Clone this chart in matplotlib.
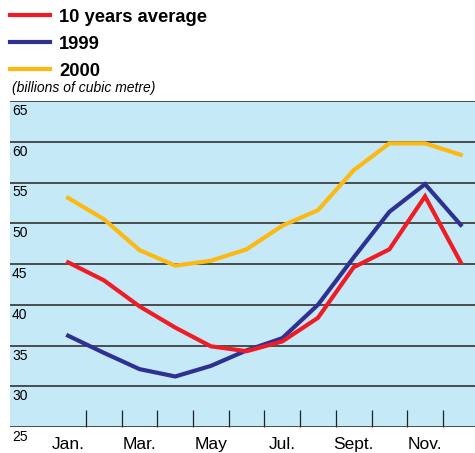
import numpy as np
import matplotlib
matplotlib.use("Agg")
from matplotlib import pyplot as plt
from matplotlib.lines import Line2D
import matplotlib.transforms as mtransforms

plt.rcParams['font.family'] = ['Liberation Sans', 'DejaVu Sans']

months = ['Jan.', 'Feb.', 'Mar.', 'Apr.', 'May', 'Jun.', 'Jul.', 'Aug.',
          'Sept.', 'Oct.', 'Nov.', 'Dec.']
avg10 = [45.2, 43.0, 39.8, 37.2, 34.9, 34.3, 35.5, 38.4, 44.6, 46.8, 53.3, 45.2]
y1999 = [36.2, 34.1, 32.1, 31.2, 32.5, 34.4, 35.9, 40.0, 45.8, 51.4, 54.8, 49.8]
y2000 = [53.1, 50.5, 46.7, 44.8, 45.4, 46.8, 49.7, 51.6, 56.5, 59.8, 59.8, 58.4]
series_names = ['10 years average', '1999', '2000']
yticks = [25, 30, 35, 40, 45, 50, 55, 60, 65]
shown_months = [0, 2, 4, 6, 8, 10]

red = '#EE1C25'
blue = '#2E3192'
yellow = '#FDB913'
colors = [red, blue, yellow]

W, H = 475, 453
fig = plt.figure(figsize=(W/100, H/100), dpi=100)
ax = fig.add_axes([10/W, 26/H, 1 - 10/W, (427-101)/H])
ax.set_facecolor('#C6E9F8')

x = np.arange(12)
for vals, c, name, z in zip([avg10, y1999, y2000], colors, series_names, [4, 3, 3]):
    ax.plot(x, vals, color=c, lw=3, solid_joinstyle='miter', label=name, zorder=z)

ax.set_ylim(25, 65)
ax.set_xlim(-1.63, 11.4)
for s in ax.spines.values():
    s.set_visible(False)

# horizontal gridlines
for v in yticks:
    ax.axhline(v, color='#333333', lw=1.2, zorder=2)
ax.set_yticks([])

# y labels just under each gridline
trans = mtransforms.blended_transform_factory(ax.transAxes, ax.transData)
off = mtransforms.offset_copy(trans, fig=fig, x=2, y=-3, units='dots')
for v in yticks:
    ax.text(0, v, str(v), transform=off, ha='left', va='top', fontsize=10, clip_on=False)

# month labels and boundary ticks
ax.set_xticks(shown_months)
ax.set_xticklabels([months[i] for i in shown_months], fontsize=12.5)
ax.tick_params(axis='x', which='major', length=0, pad=7.5)
ax.set_xticks(np.arange(0.5, 11, 1), minor=True)
ax.tick_params(axis='x', which='minor', direction='in', length=12, width=0.9, color='#222222')

# legend drawn by hand at the top left
for i, (c, name) in enumerate(zip(colors, series_names)):
    yl = 15.3 + i * 27
    fig.add_artist(Line2D([10/W, 50/W], [1 - yl/H, 1 - yl/H], color=c, lw=3))
    fig.text(59/W, 1 - (yl + 6.5)/H, name, fontsize=13.2, fontweight='bold',
             ha='left', va='baseline')
fig.text(12/W, 1 - 88/H, '(billions of cubic metre)', fontsize=10, style='italic',
         ha='left', va='center')

fig.savefig('out.png', dpi=100)
